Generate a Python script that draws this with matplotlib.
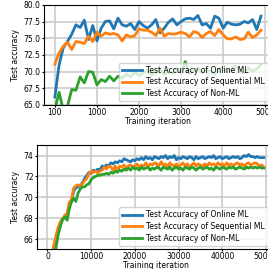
import matplotlib
matplotlib.use('Agg')
import matplotlib.pyplot as plt
import numpy as np

# top panel: every 100 iterations (first tick labelled 100)
top_x = np.arange(0, 5000, 100)
top_online = [66.2, 71.0, 73.6, 74.5, 75.6, 77.0, 76.6, 77.7, 74.8, 76.9,
              74.6, 76.5, 77.5, 77.6, 76.4, 78.0, 77.0, 76.8, 77.2, 76.3,
              77.5, 76.9, 76.5, 77.0, 77.8, 75.8, 76.5, 77.4, 77.9, 77.0,
              77.5, 77.9, 78.0, 77.8, 78.4, 77.0, 77.2, 76.5, 78.3, 78.0,
              76.5, 77.4, 77.1, 77.0, 77.1, 77.5, 77.3, 77.8, 76.3, 78.3]
top_seq = [71.1, 72.8, 73.8, 74.4, 73.3, 74.5, 74.4, 74.2, 75.3, 74.5,
           75.9, 75.3, 75.8, 75.6, 75.7, 75.5, 74.6, 75.5, 75.2, 75.4,
           76.4, 76.2, 76.2, 75.9, 75.4, 76.5, 75.3, 75.7, 75.6, 75.7,
           75.9, 75.7, 75.2, 76.0, 75.8, 75.1, 75.7, 76.0, 75.4, 76.3,
           75.5, 74.9, 74.9, 75.2, 74.8, 74.9, 75.9, 75.1, 75.5, 76.2]
top_nonml = [64.3, 66.9, 64.2, 64.8, 67.3, 67.2, 69.2, 68.3, 70.0, 69.9,
             68.0, 68.8, 68.5, 69.3, 68.6, 69.3, 69.0, 69.6, 69.2, 69.9,
             69.4, 69.8, 70.2, 69.5, 69.9, 70.3, 69.6, 70.0, 69.7, 70.4,
             69.8, 71.5, 69.7, 70.1, 70.5, 69.8, 70.2, 70.0, 69.6, 70.3,
             70.6, 69.9, 70.4, 70.8, 70.1, 69.8, 70.6, 70.0, 70.4, 71.0]
top_ticks = [0, 1000, 2000, 3000, 4000, 5000]
top_ticklabels = ['100', '1000', '2000', '3000', '4000', '5000']

# bottom panel: every 500 iterations
bot_x = np.arange(0, 50000, 500)
bot_online = [60.5, 62.5, 64.3, 65.3, 66.2, 67.0, 67.6, 67.9, 68.2, 68.0,
              69.2, 69.6, 70.6, 70.9, 71.0, 71.1, 71.4, 71.8, 72.1, 72.4,
              72.3, 72.6, 72.5, 72.7, 72.6, 73.0, 72.9, 73.1, 73.0, 73.3,
              73.2, 73.4, 73.3, 73.5, 73.4, 73.7, 73.6, 73.5, 73.4, 73.6,
              73.5, 73.7, 73.6, 73.8, 73.6, 73.9, 73.7, 73.8, 73.6, 73.9,
              73.8, 73.7, 73.9, 73.8, 74.0, 73.7, 73.9, 73.8, 74.0, 73.6,
              73.8, 73.7, 73.9, 73.8, 73.7, 73.9, 73.8, 73.6, 73.9, 73.7,
              73.8, 73.9, 73.7, 73.8, 73.9, 73.8, 74.0, 73.7, 73.8, 73.9,
              73.7, 73.8, 73.9, 73.7, 73.8, 73.9, 73.8, 73.9, 73.7, 73.8,
              74.0, 73.9, 74.1, 73.9, 73.9, 73.8, 73.9, 73.8, 73.8, 73.8]
bot_seq = [61.0, 62.8, 64.5, 65.5, 66.4, 67.2, 67.7, 68.0, 68.3, 68.5,
           69.5, 69.8, 70.9, 71.1, 71.2, 71.1, 71.3, 71.6, 71.8, 72.3,
           72.5, 72.4, 72.5, 72.3, 72.5, 72.6, 72.9, 72.7, 73.0, 72.9,
           72.6, 73.0, 72.5, 73.0, 72.9, 73.1, 72.8, 73.0, 73.1, 72.9,
           73.0, 73.2, 72.9, 73.1, 73.0, 73.3, 72.9, 73.2, 73.1, 73.3,
           73.2, 73.0, 73.4, 73.1, 73.2, 72.9, 73.3, 73.1, 73.0, 73.2,
           72.9, 73.1, 73.3, 73.0, 73.2, 72.9, 73.1, 73.3, 73.0, 73.2,
           73.1, 72.9, 73.2, 73.0, 73.3, 73.1, 73.2, 73.0, 73.3, 73.1,
           73.2, 73.0, 73.3, 73.1, 73.2, 73.0, 73.2, 73.3, 73.1, 73.2,
           73.0, 73.2, 73.3, 73.1, 73.2, 73.3, 73.2, 73.0, 73.1, 72.9]
bot_nonml = [59.0, 61.2, 63.0, 64.2, 65.3, 66.5, 67.3, 67.9, 68.1, 67.8,
             68.9, 69.6, 69.9, 69.6, 70.4, 70.8, 71.0, 71.0, 71.2, 71.3,
             71.7, 71.9, 72.0, 72.1, 72.1, 72.2, 72.2, 72.3, 72.2, 72.4,
             72.3, 72.5, 72.4, 72.6, 72.5, 72.7, 72.6, 72.8, 72.6, 72.9,
             72.7, 72.8, 72.6, 72.9, 72.7, 72.8, 72.9, 72.6, 72.8, 72.7,
             72.9, 72.8, 72.6, 72.9, 72.8, 72.7, 72.9, 72.6, 72.8, 72.9,
             72.7, 72.8, 72.6, 72.9, 72.8, 72.7, 72.9, 72.8, 72.6, 72.8,
             72.9, 72.7, 72.8, 72.9, 72.7, 72.8, 72.6, 72.9, 72.8, 72.7,
             72.9, 72.8, 72.7, 72.9, 72.8, 72.9, 72.7, 72.8, 72.9, 72.8,
             72.7, 72.9, 72.8, 72.9, 72.8, 72.9, 72.8, 72.9, 72.8, 72.8]

labels = ['Test Accuracy of Online ML', 'Test Accuracy of Sequential ML',
          'Test Accuracy of Non-ML']
colors = ['#1f77b4', '#ff7f0e', '#2ca02c']

plt.rcParams['font.size'] = 5.5
plt.rcParams['xtick.major.size'] = 1.2
plt.rcParams['ytick.major.size'] = 1.5
plt.rcParams['xtick.major.pad'] = 0.8
plt.rcParams['ytick.major.pad'] = 1.0
plt.rcParams['axes.linewidth'] = 0.8

fig = plt.figure(figsize=(2.68, 2.69), dpi=100)
ax1 = fig.add_axes([0.164, 0.61, 0.849, 0.372])
ax2 = fig.add_axes([0.138, 0.0725, 0.884, 0.388])

legend_anchor = {ax1: (1.0, 0.624), ax2: (1.0, 0.086)}

for ax, x, series in [(ax1, top_x, [top_online, top_seq, top_nonml]),
                      (ax2, bot_x, [bot_online, bot_seq, bot_nonml])]:
    for ys, c, lab in zip(series, colors, labels):
        ax.plot(x, ys, color=c, lw=2, label=lab)
    ax.grid(True, color='#cccccc', lw=1.2)
    ax.set_axisbelow(True)
    ax.set_xlabel('Training iteration', labelpad=0)
    ax.set_ylabel('Test accuracy')
    ax.legend(loc='lower right', bbox_to_anchor=legend_anchor[ax],
              bbox_transform=fig.transFigure, borderaxespad=0,
              handlelength=2.6, handletextpad=0.6,
              borderpad=0.4, labelspacing=0.35)

ax1.yaxis.set_label_coords(-0.105, 0.5)
ax2.yaxis.set_label_coords(-0.072, 0.5)

ax1.set_xlim(-260, 5150)
ax1.set_ylim(65, 80)
ax1.set_yticks([65.0, 67.5, 70.0, 72.5, 75.0, 77.5, 80.0])
ax1.set_xticks(top_ticks)
ax1.set_xticklabels(top_ticklabels)

ax2.set_xlim(-2400, 51800)
ax2.set_ylim(65, 75)
ax2.set_yticks([66, 68, 70, 72, 74])
ax2.set_xticks([0, 10000, 20000, 30000, 40000, 50000])

fig.savefig('out.png', dpi=100)
